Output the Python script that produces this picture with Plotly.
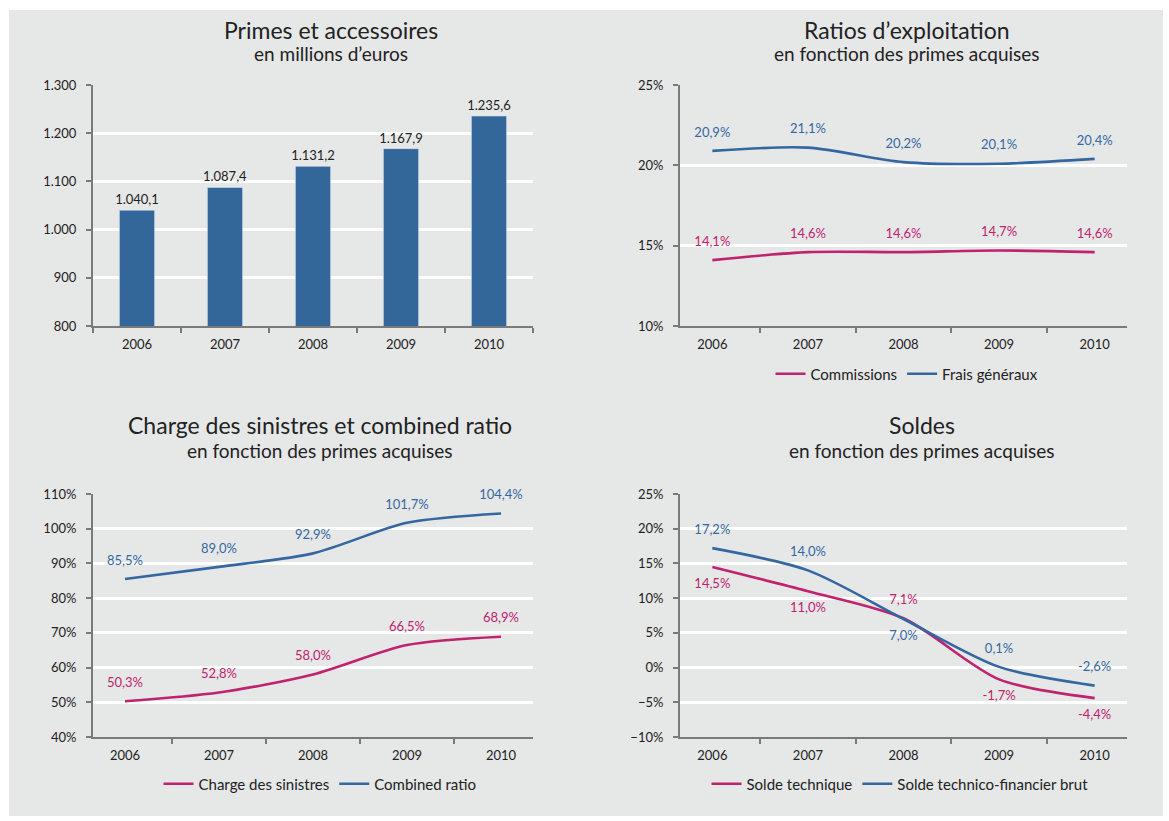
import plotly.graph_objects as go

years = ["2006", "2007", "2008", "2009", "2010"]
primes = [1040.1, 1087.4, 1131.2, 1167.9, 1235.6]
commissions = [14.1, 14.6, 14.6, 14.7, 14.6]
frais_generaux = [20.9, 21.1, 20.2, 20.1, 20.4]
charge_sinistres = [50.3, 52.8, 58.0, 66.5, 68.9]
combined_ratio = [85.5, 89.0, 92.9, 101.7, 104.4]
solde_technique = [14.5, 11.0, 7.1, -1.7, -4.4]
solde_tf_brut = [17.2, 14.0, 7.0, 0.1, -2.6]

W, H = 1169, 821
MAG = "#c0226e"
BLUE = "#3467a1"
BAR = "#336699"
BG = "#e6e7e7"
FONT = "Lato"
TXT = "#222"

def px(x):
    return x / W

def py(y):
    return 1 - y / H

fig = go.Figure()

# Panel 1: bars
fig.add_trace(go.Bar(x=years, y=primes, marker_color=BAR, width=0.4,
                     texttemplate="%{y:,.1f}", textposition="outside",
                     constraintext="none",
                     textfont=dict(color=TXT, size=13, family=FONT),
                     cliponaxis=False, showlegend=False, xaxis="x", yaxis="y"))

def line(x, y, color, name, legend, xa, ya, pos):
    return go.Scatter(x=x, y=y, name=name, mode="lines+markers+text",
                      line=dict(color=color, width=2.6, shape="spline", smoothing=0.8),
                      marker=dict(size=16, color="rgba(0,0,0,0)"),
                      texttemplate="%{y:.1f}%", textposition=pos,
                      textfont=dict(color=color, size=13, family=FONT),
                      cliponaxis=False, legend=legend, xaxis=xa, yaxis=ya)

fig.add_trace(line(years, commissions, MAG, "Commissions", "legend2", "x2", "y2", "top center"))
fig.add_trace(line(years, frais_generaux, BLUE, "Frais généraux", "legend2", "x2", "y2", "top center"))
fig.add_trace(line(years, charge_sinistres, MAG, "Charge des sinistres", "legend3", "x3", "y3", "top center"))
fig.add_trace(line(years, combined_ratio, BLUE, "Combined ratio", "legend3", "x3", "y3", "top center"))
fig.add_trace(line(years, solde_technique, MAG, "Solde technique", "legend4", "x4", "y4",
                   ["bottom center", "bottom center", "top center", "bottom center", "bottom center"]))
fig.add_trace(line(years, solde_tf_brut, BLUE, "Solde technico-financier brut", "legend4", "x4", "y4",
                   ["top center", "top center", "bottom center", "top center", "top center"]))

xcommon = dict(type="category", showline=True, linecolor="#7a7a7a", linewidth=2,
               ticks="outside", tickson="boundaries", ticklen=5, tickwidth=2, tickcolor="#7a7a7a",
               showgrid=False, tickfont=dict(size=13, color=TXT, family=FONT),
               ticklabelstandoff=5, automargin=False, fixedrange=True)
ycommon = dict(showline=True, linecolor="#7a7a7a", linewidth=2, ticks="outside",
               ticklen=5, tickwidth=2, tickcolor="#7a7a7a", showgrid=True,
               gridcolor="white", gridwidth=2.5, zeroline=False,
               tickfont=dict(size=13, color=TXT, family=FONT),
               ticklabelstandoff=7, automargin=False, fixedrange=True)

L = [px(93), px(533)]
R = [px(680), px(1127)]
T = [py(326), py(85)]
B = [py(737), py(494)]

fig.update_layout(
    xaxis=dict(domain=L, anchor="y", **xcommon),
    yaxis=dict(domain=T, anchor="x", range=[800, 1300], dtick=100, tickformat=",d", **ycommon),
    xaxis2=dict(domain=R, anchor="y2", **xcommon),
    yaxis2=dict(domain=T, anchor="x2", range=[10, 25], dtick=5, ticksuffix="%", **ycommon),
    xaxis3=dict(domain=L, anchor="y3", **xcommon),
    yaxis3=dict(domain=B, anchor="x3", range=[40, 110], dtick=10, ticksuffix="%", **ycommon),
    xaxis4=dict(domain=R, anchor="y4", **xcommon),
    yaxis4=dict(domain=B, anchor="x4", range=[-10, 25], dtick=5, ticksuffix="%", **ycommon),
)

legcommon = dict(orientation="h", xanchor="center", yanchor="middle",
                 bgcolor="rgba(0,0,0,0)", font=dict(size=15, color=TXT, family=FONT),
                 itemwidth=30, tracegroupgap=0)
fig.update_layout(
    legend2=dict(x=px(907), y=py(374), **legcommon),
    legend3=dict(x=px(320), y=py(784), **legcommon),
    legend4=dict(x=px(900), y=py(784), **legcommon),
)

fig.add_shape(type="rect", xref="paper", yref="paper", x0=px(9), x1=px(1163), y0=py(816), y1=py(10),
              fillcolor=BG, line=dict(width=0), layer="below")

titles = [
    ("Primes et accessoires", "en millions d’euros", 331, 30, 53),
    ("Ratios d’exploitation", "en fonction des primes acquises", 907, 30, 53),
    ("Charge des sinistres et combined ratio", "en fonction des primes acquises", 320, 425, 450),
    ("Soldes", "en fonction des primes acquises", 922, 425, 450),
]
for t, s, xc, yt, ys in titles:
    fig.add_annotation(text=t, x=px(xc), y=py(yt), xref="paper", yref="paper",
                       showarrow=False, xanchor="center", yanchor="middle",
                       font=dict(size=23, color=TXT, family=FONT))
    fig.add_annotation(text=s, x=px(xc), y=py(ys), xref="paper", yref="paper",
                       showarrow=False, xanchor="center", yanchor="middle",
                       font=dict(size=19, color=TXT, family=FONT))

fig.update_layout(width=W, height=H,
                  margin=dict(l=0, r=0, t=0, b=0, pad=0, autoexpand=False),
                  paper_bgcolor="white", plot_bgcolor="rgba(0,0,0,0)",
                  separators=",.", font=dict(family=FONT), bargap=0.6)

fig.write_html("out.html")
